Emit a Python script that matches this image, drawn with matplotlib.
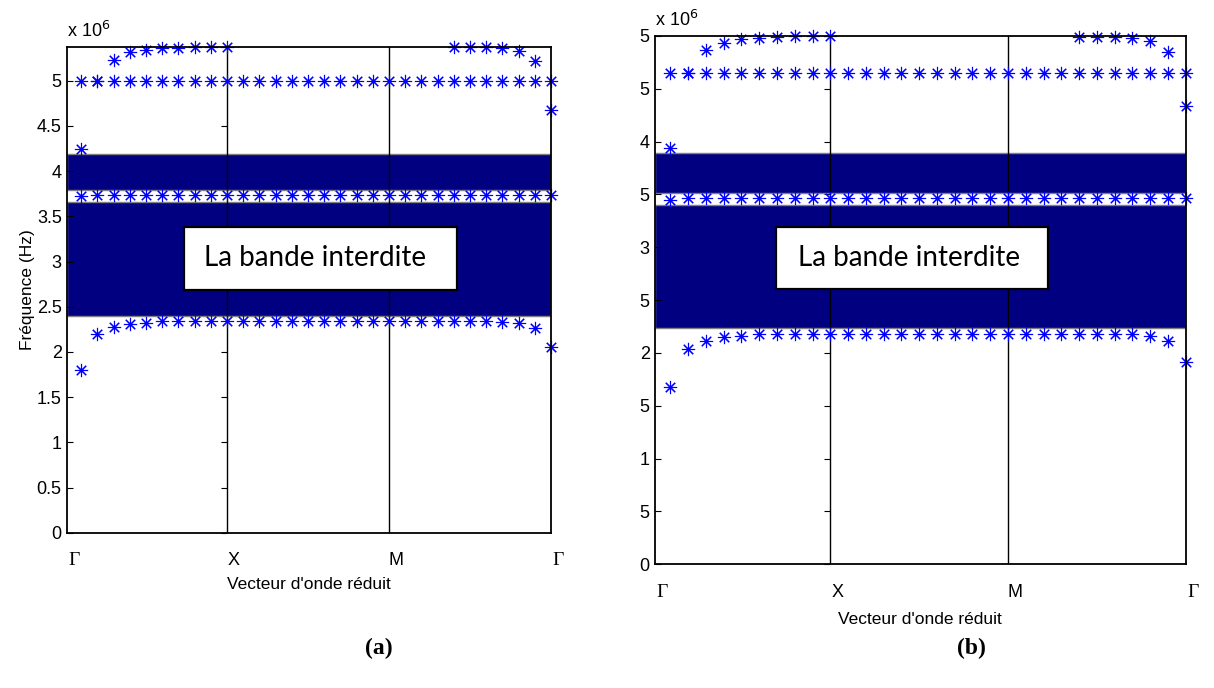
"""
Band structure of the phononic crystal along Gamma-X-M-Gamma, two configurations.
"""

import matplotlib
matplotlib.use("Agg")
import matplotlib.pyplot as plt
import numpy as np
from matplotlib.patches import Rectangle
from matplotlib.transforms import ScaledTranslation

# wave-vector sample index along the path (10 points per segment)
K_INDEX = np.arange(1, 31)
K_TICKS = [0.13, 10, 20, 30]
K_LABELS = ["\u0393", "X", "M", "\u0393"]

# --- (a) eigenfrequencies, in units of 1e6 Hz (NaN = off the plotted range) ---
A_BAND1 = [1.80, 2.196, 2.277, 2.307, 2.318, 2.34, 2.34, 2.34, 2.34, 2.34,
           2.34, 2.34, 2.34, 2.34, 2.34, 2.34, 2.34, 2.34, 2.34, 2.34,
           2.34, 2.34, 2.34, 2.34, 2.34, 2.34, 2.334, 2.322, 2.27, 2.05]
A_BAND2 = [3.72] + [3.74] * 29
A_BAND3 = [4.24] + [5.0] * 28 + [4.675]
A_BAND4 = [5.0, 5.0, 5.232, 5.313, 5.343, 5.358, 5.365, 5.37, 5.37, 5.37,
           np.nan, np.nan, np.nan, np.nan, np.nan, np.nan, np.nan, np.nan, np.nan, np.nan,
           np.nan, np.nan, np.nan, 5.37, 5.37, 5.37, 5.36, 5.325, 5.22, 5.0]
A_GAPS = [(2.40, 3.66), (3.786, 4.19)]
A_YMAX = 5.37
A_YTICKLABELS = ["0", "0.5", "1", "1.5", "2", "2.5", "3", "3.5", "4", "4.5", "5"]

# --- (b) eigenfrequencies, in units of 1e6 Hz ---
B_BAND1 = [1.675, 2.038, 2.113, 2.148, 2.16, 2.18, 2.18, 2.18, 2.18, 2.18,
           2.18, 2.18, 2.18, 2.18, 2.18, 2.18, 2.18, 2.18, 2.18, 2.18,
           2.18, 2.18, 2.18, 2.18, 2.18, 2.18, 2.175, 2.165, 2.115, 1.915]
B_BAND2 = [3.45] + [3.464] * 29
B_BAND3 = [3.943] + [4.653] * 28 + [4.334]
B_BAND4 = [4.653, 4.653, 4.87, 4.937, 4.968, 4.983, 4.99, 5.0, 5.0, 5.0,
           np.nan, np.nan, np.nan, np.nan, np.nan, np.nan, np.nan, np.nan, np.nan, np.nan,
           np.nan, np.nan, np.nan, 4.993, 4.993, 4.993, 4.978, 4.95, 4.846, 4.653]
B_GAPS = [(2.236, 3.403), (3.517, 3.895)]
B_YMAX = 5.0
B_YTICKLABELS = ["0", "5", "1", "5", "2", "5", "3", "5", "4", "5", "5"]

Y_TICKS = np.arange(0, 5.01, 0.5)
SCALE = 1e6

SANS = "Liberation Sans"
SERIF = "Liberation Serif"
GAP_COLOR = "#000080"
MARKER = (8, 2, 0)


def draw_panel(fig, rect, bands, gaps, ymax, yticklabels, box, panel_tag, tag_x,
               ylabel=None, xlabel_pad=10):
    # mirrored y ticks on the X boundary line (sits underneath the main axes)
    frac = (K_TICKS[1] - K_TICKS[0]) / (K_TICKS[-1] - K_TICKS[0])
    sub = fig.add_axes([rect[0], rect[1], rect[2] * frac, rect[3]])
    sub.set_ylim(0, ymax * SCALE)
    sub.set_yticks(Y_TICKS * SCALE)
    sub.set_xticks([])
    sub.tick_params(axis="y", left=False, right=True, labelleft=False,
                    direction="in", length=4)
    for sp in sub.spines.values():
        sp.set_visible(False)

    ax = fig.add_axes(rect)
    ax.patch.set_visible(False)
    ax.set_xlim(K_TICKS[0], K_TICKS[-1])
    ax.set_ylim(0, ymax * SCALE)

    for lo, hi in gaps:
        ax.axhspan(lo * SCALE, hi * SCALE, facecolor=GAP_COLOR, edgecolor="#808080",
                   lw=1.0, zorder=1)
    for k in K_TICKS[1:3]:
        ax.axvline(k, color="black", lw=1.0, zorder=2)

    for band in bands:
        vals = np.asarray(band, dtype=float) * SCALE
        ax.plot(K_INDEX, vals, ls="none", marker=MARKER, ms=9.5, mew=0.8,
                color="#0000ff", clip_on=False, zorder=4)

    ax.set_xticks(K_TICKS)
    ax.set_xticklabels(K_LABELS)
    ax.set_yticks(Y_TICKS * SCALE)
    ax.set_yticklabels(yticklabels)
    ax.tick_params(axis="x", length=0, pad=14, labelsize=13)
    ax.tick_params(axis="y", direction="in", length=4, pad=3.8, labelsize=13)
    shift = ScaledTranslation(5 / 72, 0, fig.dpi_scale_trans)
    for lab in ax.get_xticklabels():
        lab.set_transform(lab.get_transform() + shift)
        lab.set_fontfamily(SERIF if lab.get_text() == "\u0393" else SANS)
        if lab.get_text() == "\u0393":
            lab.set_fontsize(14)
    for lab in ax.get_yticklabels():
        lab.set_fontfamily(SANS)
    for sp in ax.spines.values():
        sp.set_linewidth(1.3)
        sp.set_zorder(5)

    ax.set_xlabel("Vecteur d'onde r\u00e9duit", fontsize=12.5, family=SANS, labelpad=xlabel_pad)
    if ylabel:
        ax.set_ylabel(ylabel, fontsize=12.5, family=SANS, labelpad=1)
    ax.text(0.0, 1.012, r"x 10$^{6}$", transform=ax.transAxes, fontsize=13,
            family=SANS, ha="left", va="bottom")

    # text box marking the forbidden band
    x0, y0, x1, y1 = box
    ax.add_patch(Rectangle((x0, y0), x1 - x0, y1 - y0, transform=ax.transAxes,
                           facecolor="white", edgecolor="black", lw=1.6, zorder=6))
    ax.text(x0 + 0.042, (y0 + y1) / 2, "La bande interdite", transform=ax.transAxes,
            fontsize=20, family="Lato", ha="left", va="center", zorder=7)

    fig.text(tag_x, 0.058, panel_tag, fontsize=17, family=SERIF, weight="bold",
             ha="center", va="center")
    return ax


fig = plt.figure(figsize=(12.14, 6.88), dpi=100)

draw_panel(fig, [0.0552, 0.2257, 0.3987, 0.7056],
           [A_BAND1, A_BAND2, A_BAND3, A_BAND4], A_GAPS, A_YMAX, A_YTICKLABELS,
           (0.2417, 0.50, 0.806, 0.63), "(a)", 0.312,
           ylabel="Fr\u00e9quence (Hz)", xlabel_pad=6)
draw_panel(fig, [0.5395, 0.1798, 0.4372, 0.7679],
           [B_BAND1, B_BAND2, B_BAND3, B_BAND4], B_GAPS, B_YMAX, B_YTICKLABELS,
           (0.2274, 0.5205, 0.7405, 0.638), "(b)", 0.8,
           xlabel_pad=8)

fig.savefig("out.png", dpi=100)
